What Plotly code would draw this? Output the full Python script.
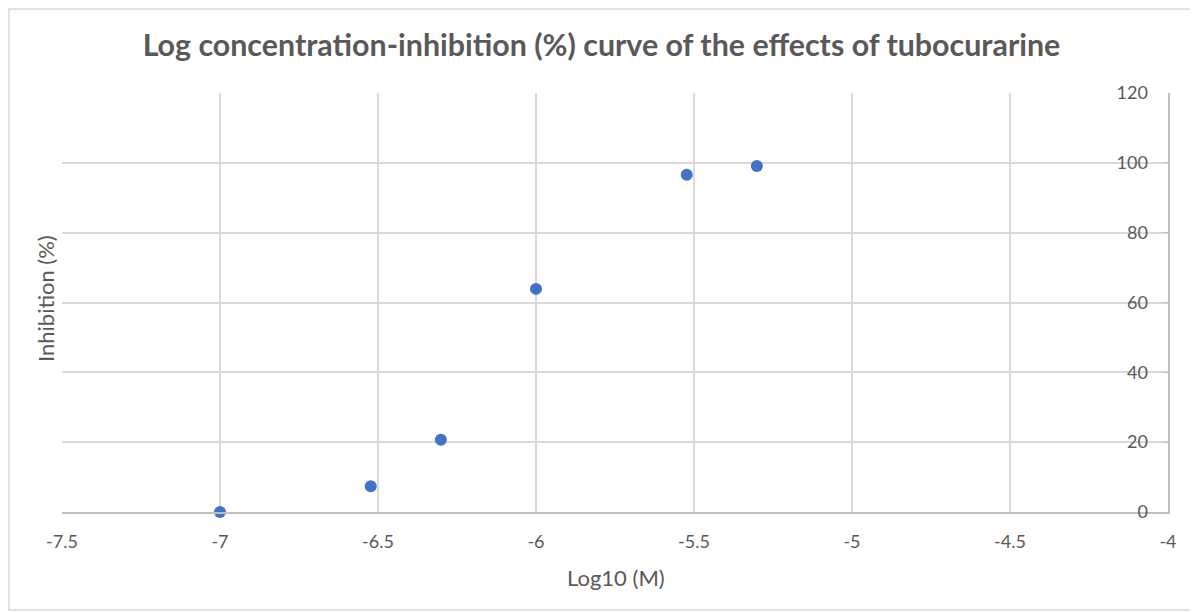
import plotly.graph_objects as go

# Data
log_conc = [-7.0, -6.523, -6.301, -6.0, -5.523, -5.301]
inhibition = [0.0, 7.4, 20.7, 63.9, 96.6, 99.1]
x_ticks = [-7.5, -7, -6.5, -6, -5.5, -5, -4.5, -4]
x_tick_text = ["-7.5", "-7", "-6.5", "-6", "-5.5", "-5", "-4.5", "-4"]
y_ticks = [0, 20, 40, 60, 80, 100, 120]
y_tick_text = ["0", "20", "40", "60", "80", "100", "120"]

# page body has an 8px margin; positions below are window pixels
OFF = 8
W, H = 1198, 612
L, R, T, B = 62 - OFF, 1198 - (1168 - OFF), 93 - OFF, 612 - (512 - OFF)
PW, PH = W - L - R, H - T - B

def px(x):
    return (x - OFF - L) / PW

def py(y):
    return (H - B - (y - OFF)) / PH

FONT = "Lato, Open Sans, sans-serif"
GRAY = "#595959"

fig = go.Figure()
fig.add_trace(go.Scatter(
    x=log_conc, y=inhibition, mode="markers",
    marker=dict(color="#4472C4", size=12, line=dict(width=0)),
    cliponaxis=False, showlegend=False,
))

fig.update_layout(
    width=W, height=H,
    margin=dict(l=L, r=R, t=T, b=B),
    paper_bgcolor="white", plot_bgcolor="white",
    font=dict(family=FONT, color=GRAY, size=18),
    title=dict(
        text="<b>Log concentration-inhibition (%) curve of the effects of tubocurarine</b>",
        x=(601.5 - OFF) / W, xref="container", xanchor="center",
        y=1 - (45 - OFF) / H, yanchor="middle",
        font=dict(family=FONT, size=30.4, color=GRAY),
    ),
    xaxis=dict(
        range=[-7.5, -4], tickvals=x_ticks, ticktext=x_tick_text,
        showgrid=True, gridcolor="#d9d9d9", gridwidth=1.5,
        showline=True, linecolor="#bfbfbf", linewidth=1.5,
        zeroline=False, ticks="", ticklabelstandoff=13,
        ticklabeloverflow="allow",
        tickfont=dict(size=18, color=GRAY),
    ),
    yaxis=dict(
        range=[0, 120], tickvals=y_ticks, ticktext=y_tick_text,
        side="right", ticklabelposition="inside",
        ticklabeloverflow="allow",
        showgrid=True, gridcolor="#d9d9d9", gridwidth=1.5,
        showline=True, linecolor="#bfbfbf", linewidth=1.5,
        zeroline=False, ticks="inside", ticklen=5, tickcolor="#bfbfbf",
        ticklabelstandoff=16,
        tickfont=dict(size=18, color=GRAY),
    ),
    annotations=[
        dict(text="Log10 (M)", xref="paper", yref="paper",
             x=px(616), y=py(577), xanchor="center", yanchor="middle",
             showarrow=False, font=dict(size=22, color=GRAY)),
        dict(text="Inhibition (%)", textangle=-90,
             xref="paper", yref="paper", x=px(45), y=py(299),
             xanchor="center", yanchor="middle", showarrow=False,
             font=dict(size=22, color=GRAY)),
    ],
    shapes=[
        dict(type="rect", xref="paper", yref="paper",
             x0=px(9), x1=px(1196), y0=py(610), y1=py(9),
             line=dict(color="#d9d9d9", width=1.5), layer="below"),
    ],
)

fig.write_html("out.html")
